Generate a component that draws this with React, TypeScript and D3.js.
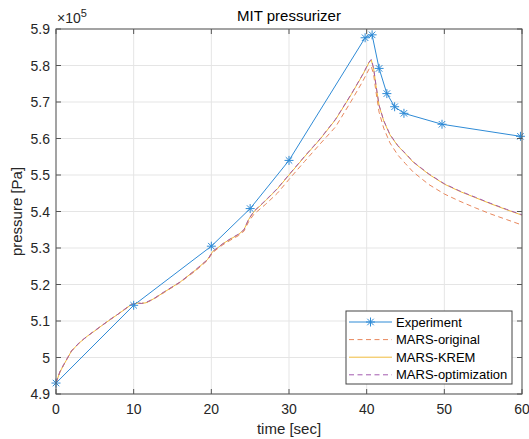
import React from 'react'
import * as d3 from 'd3'

// pressures are in units of 1e5 Pa
const expTime = [0, 10, 20, 25, 30, 39.8, 40.7, 41.6, 42.6, 43.6, 44.8, 49.7, 59.8]
const expP = [4.93, 5.143, 5.305, 5.408, 5.54, 5.876, 5.884, 5.792, 5.723, 5.687, 5.669, 5.639, 5.606]

const simTime = [0, 0.5, 1, 2, 3, 4, 5, 6, 7, 8, 9, 9.7, 10.5, 11, 11.6, 12.5, 14, 16, 18, 19.5, 20.2, 20.8, 21.5, 22.5, 23.5, 24.2, 24.8, 25.5, 27, 28.5, 30, 32, 34, 36, 38, 39.5, 40.3, 40.6, 40.9, 41.2, 41.6, 42.2, 43, 44, 45, 46, 48, 50, 52, 54, 56, 58, 60]
const kremP = [4.93, 4.96, 4.98, 5.018, 5.04, 5.058, 5.073, 5.089, 5.104, 5.119, 5.134, 5.145, 5.149, 5.148, 5.15, 5.16, 5.18, 5.207, 5.24, 5.268, 5.291, 5.3, 5.312, 5.325, 5.337, 5.35, 5.378, 5.4, 5.43, 5.462, 5.5, 5.55, 5.598, 5.652, 5.72, 5.775, 5.808, 5.815, 5.79, 5.745, 5.69, 5.648, 5.61, 5.58, 5.558, 5.535, 5.502, 5.475, 5.455, 5.438, 5.421, 5.405, 5.39]
const optimP = [4.93, 4.961, 4.981, 5.018, 5.041, 5.058, 5.074, 5.089, 5.105, 5.119, 5.135, 5.145, 5.149, 5.148, 5.151, 5.16, 5.181, 5.207, 5.241, 5.268, 5.291, 5.301, 5.312, 5.326, 5.338, 5.35, 5.379, 5.401, 5.431, 5.463, 5.501, 5.551, 5.599, 5.653, 5.721, 5.776, 5.809, 5.817, 5.792, 5.746, 5.691, 5.649, 5.611, 5.581, 5.559, 5.536, 5.503, 5.476, 5.456, 5.439, 5.422, 5.406, 5.391]
const originalP = [4.93, 4.96, 4.98, 5.018, 5.04, 5.058, 5.073, 5.089, 5.104, 5.119, 5.134, 5.145, 5.149, 5.148, 5.15, 5.159, 5.179, 5.206, 5.238, 5.266, 5.288, 5.298, 5.309, 5.322, 5.334, 5.346, 5.372, 5.393, 5.42, 5.45, 5.488, 5.537, 5.585, 5.632, 5.702, 5.757, 5.79, 5.797, 5.775, 5.728, 5.672, 5.628, 5.588, 5.555, 5.531, 5.508, 5.474, 5.448, 5.428, 5.41, 5.393, 5.378, 5.363]

const xTicks = [0, 10, 20, 30, 40, 50, 60]
const yTicks = [4.9, 5, 5.1, 5.2, 5.3, 5.4, 5.5, 5.6, 5.7, 5.8, 5.9]

const series = [
	{ name: 'MARS-original', values: originalP, color: '#e8875c', dash: '5,3.5', width: 1 },
	{ name: 'MARS-KREM', values: kremP, color: '#f0bc3c', dash: null, width: 1 },
	{ name: 'MARS-optimization', values: optimP, color: '#a35ab0', dash: '5,3.5', width: 1 },
]

const expColor = '#2f8bd6'
const font = '"Liberation Sans", Arial, sans-serif'

const W = 529
const H = 439
const left = 56
const right = 522
const top = 29
const bottom = 394

function Asterisk({ x, y }) {
	const r = 4.5
	const d = r * 0.72
	return (
		<path
			d={`M${x - r},${y}H${x + r}M${x},${y - r}V${y + r}M${x - d},${y - d}L${x + d},${y + d}M${x - d},${y + d}L${x + d},${y - d}`}
			stroke={expColor}
			strokeWidth={1}
			fill="none"
		/>
	)
}

export default function App() {
	const x = d3.scaleLinear().domain([0, 60]).range([left, right])
	const y = d3.scaleLinear().domain([4.9, 5.9]).range([bottom, top])

	const simLine = d3.line<number>()
		.x((d, i) => x(simTime[i]))
		.y((d) => y(d))
	const expLine = d3.line<number>()
		.x((d, i) => x(expTime[i]))
		.y((d) => y(d))

	const axisColor = '#555'
	const tickLen = 5

	const legX = 346
	const legY = 311
	const legW = 166
	const legH = 73
	const rowH = 17.6

	return (
		<svg width={W} height={H} style={{ position: 'absolute', left: 0, top: 0, background: 'white' }} fontFamily={font}>
			<rect x={0} y={0} width={W} height={H} fill="white" />
			{/* grid */}
			<g stroke="#e5e5e5" strokeWidth={1}>
				{xTicks.map((t) => (
					<line key={'gx' + t} x1={x(t)} x2={x(t)} y1={top} y2={bottom} />
				))}
				{yTicks.map((t) => (
					<line key={'gy' + t} x1={left} x2={right} y1={y(t)} y2={y(t)} />
				))}
			</g>

			{/* data */}
			<g clipPath="url(#plotclip)">
				<path d={expLine(expP)} fill="none" stroke={expColor} strokeWidth={1} />
				{series.map((s) => (
					<path
						key={s.name}
						d={simLine(s.values)}
						fill="none"
						stroke={s.color}
						strokeWidth={s.width}
						strokeDasharray={s.dash || undefined}
					/>
				))}
				{expP.map((p, i) => (
					<Asterisk key={i} x={x(expTime[i])} y={y(p)} />
				))}
			</g>
			<defs>
				<clipPath id="plotclip">
					<rect x={left - 6} y={top - 6} width={right - left + 12} height={bottom - top + 12} />
				</clipPath>
			</defs>

			{/* box and ticks */}
			<rect x={left} y={top} width={right - left} height={bottom - top} fill="none" stroke={axisColor} strokeWidth={1} />
			<g stroke={axisColor} strokeWidth={1}>
				{xTicks.map((t) => (
					<g key={'tx' + t}>
						<line x1={x(t)} x2={x(t)} y1={bottom} y2={bottom - tickLen} />
						<line x1={x(t)} x2={x(t)} y1={top} y2={top + tickLen} />
					</g>
				))}
				{yTicks.map((t) => (
					<g key={'ty' + t}>
						<line x1={left} x2={left + tickLen} y1={y(t)} y2={y(t)} />
						<line x1={right} x2={right - tickLen} y1={y(t)} y2={y(t)} />
					</g>
				))}
			</g>

			{/* tick labels */}
			<g fontSize={14} fill="#262626">
				{xTicks.map((t) => (
					<text key={'lx' + t} x={x(t)} y={bottom + 20} textAnchor="middle">{t}</text>
				))}
				{yTicks.map((t) => (
					<text key={'ly' + t} x={left - 6} y={y(t) + 5} textAnchor="end">{d3.format('~g')(t)}</text>
				))}
			</g>

			{/* exponent */}
			<text x={left + 1} y={top - 6} fontSize={14} fill="#262626">
				×10<tspan dy={-6} fontSize={11}>5</tspan>
			</text>

			{/* title and axis labels */}
			<text x={(left + right) / 2} y={21} textAnchor="middle" fontSize={15} fill="#000">MIT pressurizer</text>
			<text x={(left + right) / 2} y={434} textAnchor="middle" fontSize={15} fill="#262626">time [sec]</text>
			<text transform={`translate(22, ${(top + bottom) / 2}) rotate(-90)`} textAnchor="middle" fontSize={15} fill="#262626">pressure [Pa]</text>

			{/* legend */}
			<rect x={legX} y={legY} width={legW} height={legH} fill="white" stroke="#444" strokeWidth={1} />
			<g fontSize={13} fill="#000">
				<line x1={legX + 3} x2={legX + 46} y1={legY + 11} y2={legY + 11} stroke={expColor} strokeWidth={1} />
				<Asterisk x={legX + 24.5} y={legY + 11} />
				<text x={legX + 50} y={legY + 15.5}>Experiment</text>
				{series.map((s, i) => {
					const ry = legY + 11 + rowH * (i + 1)
					return (
						<g key={'leg' + s.name}>
							<line x1={legX + 3} x2={legX + 46} y1={ry} y2={ry} stroke={s.color} strokeWidth={s.width} strokeDasharray={s.dash || undefined} />
							<text x={legX + 50} y={ry + 4.5}>{s.name}</text>
						</g>
					)
				})}
			</g>
		</svg>
	)
}
